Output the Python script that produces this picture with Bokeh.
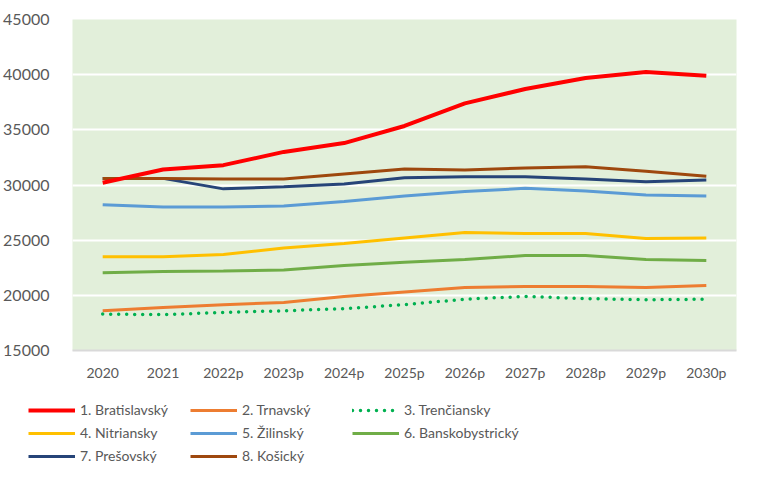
from bokeh.plotting import figure
from bokeh.models import Range1d, FactorRange, Legend, LegendItem, SingleIntervalTicker
from bokeh.layouts import column
from bokeh.embed import file_html
from bokeh.resources import INLINE

years = ["2020", "2021", "2022p", "2023p", "2024p", "2025p", "2026p", "2027p", "2028p", "2029p", "2030p"]

bratislavsky = [30200, 31400, 31800, 33000, 33800, 35350, 37400, 38700, 39700, 40250, 39900]
trnavsky = [18600, 18900, 19150, 19350, 19900, 20300, 20700, 20800, 20800, 20700, 20900]
trenciansky = [18300, 18250, 18450, 18600, 18800, 19150, 19650, 19900, 19700, 19600, 19650]
nitriansky = [23500, 23500, 23700, 24300, 24700, 25200, 25700, 25600, 25600, 25150, 25200]
zilinsky = [28200, 28000, 28000, 28100, 28500, 29000, 29400, 29700, 29450, 29100, 29000]
banskobystricky = [22050, 22150, 22200, 22300, 22700, 23000, 23250, 23600, 23600, 23250, 23150]
presovsky = [30600, 30600, 29650, 29850, 30100, 30650, 30750, 30750, 30550, 30300, 30450]
kosicky = [30600, 30600, 30550, 30550, 31000, 31450, 31350, 31550, 31650, 31250, 30800]

names = ["1. Bratislavský", "2. Trnavský", "3. Trenčiansky", "4. Nitriansky",
         "5. Žilinský", "6. Banskobystrický", "7. Prešovský", "8. Košický"]
series = [bratislavsky, trnavsky, trenciansky, nitriansky, zilinsky, banskobystricky, presovsky, kosicky]
colors = ["#FF0000", "#ED7D31", "#00B050", "#FFC000", "#5B9BD5", "#70AD47", "#264478", "#9E480E"]

FONT = "Lato"
TXT = "#595959"


def style_kw(i):
    kw = dict(line_color=colors[i], line_width=4 if i == 0 else 3)
    if i == 2:
        kw.update(line_dash="0 8", line_cap="round", line_width=3.5)
    return kw


p = figure(width=749, height=386, x_range=FactorRange(factors=years), y_range=Range1d(15000, 45000),
           output_backend="svg", toolbar_location=None,
           min_border_left=71, min_border_right=13, min_border_top=19, min_border_bottom=36)
p.background_fill_color = "#E2EFDA"
p.border_fill_color = "white"
p.outline_line_color = None

p.yaxis.ticker = SingleIntervalTicker(interval=5000)
p.ygrid.grid_line_color = "white"
p.ygrid.grid_line_width = 2
p.xgrid.grid_line_color = None

p.yaxis.axis_line_color = None
p.yaxis.major_tick_line_color = None
p.yaxis.minor_tick_line_color = None
p.yaxis.major_label_text_font = FONT
p.yaxis.major_label_text_font_size = "16px"
p.yaxis.major_label_text_color = TXT
p.yaxis.major_label_standoff = 17

p.xaxis.axis_line_color = "#D9D9D9"
p.xaxis.axis_line_width = 2
p.xaxis.major_tick_line_color = None
p.xaxis.minor_tick_line_color = None
p.xaxis.major_label_text_font = FONT
p.xaxis.major_label_text_font_size = "14px"
p.xaxis.major_label_text_color = TXT
p.xaxis.major_label_standoff = 7

for i in [2, 1, 5, 3, 4, 6, 7, 0]:
    p.line(x=years, y=series[i], **style_kw(i))

# legend figure (its lines fall outside its visible range; only the legend shows)
q = figure(width=749, height=78, x_range=FactorRange(factors=years), y_range=Range1d(0, 1),
           output_backend="svg", toolbar_location=None, min_border=0)
q.axis.visible = False
q.grid.visible = False
q.outline_line_color = None
q.background_fill_color = "white"
if hasattr(q, "frame_align"):
    q.frame_align = False
    p.frame_align = False
rends = [q.line(x=years, y=series[i], **style_kw(i)) for i in range(8)]

items = [LegendItem(label=names[i], renderers=[rends[i]]) for i in range(8)]
legend = Legend(items=items, location=(28, 0), orientation="horizontal", ncols=3)
legend.background_fill_alpha = 0
legend.border_line_color = None
legend.padding = 0
legend.margin = 0
legend.spacing = 6
legend.glyph_width = 47
legend.glyph_height = 12
legend.label_height = 12
legend.label_width = 104
legend.label_standoff = 5
legend.label_text_font = FONT
legend.label_text_font_size = "14px"
legend.label_text_color = TXT
q.add_layout(legend, "center")

open("out.html", "w").write(file_html(column(p, q), INLINE))
